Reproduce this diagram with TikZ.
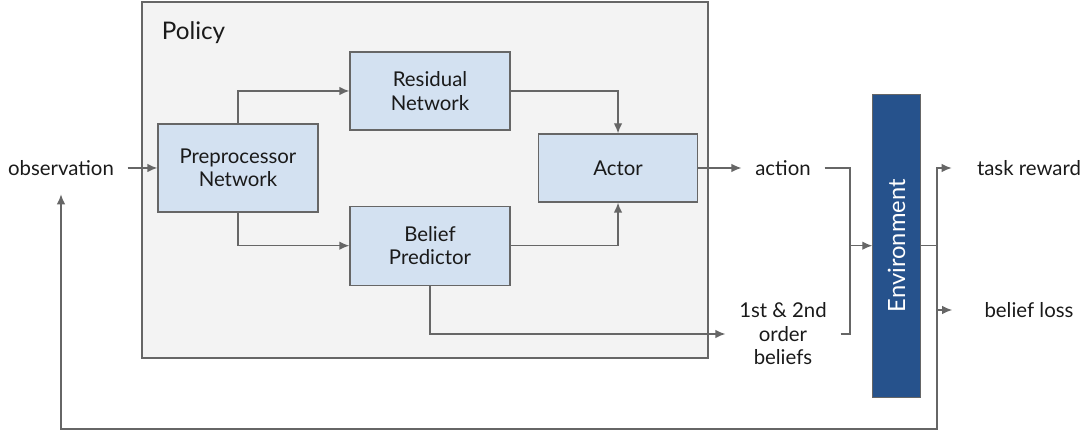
\documentclass[tikz,border=0pt]{standalone}
\usepackage{fontspec}
\setmainfont{Lato}
\usetikzlibrary{arrows.meta,positioning}
\definecolor{boxblue}{HTML}{D3E1F1}
\definecolor{policygray}{HTML}{F3F3F3}
\definecolor{envblue}{HTML}{26528C}
\definecolor{linegray}{HTML}{666666}
\definecolor{textdark}{HTML}{1A1A1A}
\tikzset{
  block/.style={draw=linegray, line width=0.75pt, fill=boxblue, align=center,
    minimum width=3.2cm, text=textdark},
  sig/.style={align=center, inner xsep=0.27cm, text=textdark},
  wire/.style={draw=linegray, line width=0.75pt},
  flow/.style={wire, -{Latex[length=2mm,width=1.7mm]}},
}

\begin{document}
\begin{tikzpicture}[font=\fontsize{11.6}{13.4}\selectfont]
  \useasboundingbox (0,0) rectangle (21.72,8.64);
  \node (policy) [draw=linegray, line width=0.75pt, fill=policygray,
    minimum width=11.32cm, minimum height=7.12cm] at (8.50,5.04) {};
  \node (policylabel) [text=textdark, font=\fontsize{13.8}{16}\selectfont] at (3.87,7.98) {Policy};

  \node (prep)  [block, minimum height=1.76cm] at (4.76,5.28)  {Preprocessor\\Network};
  \node (res)   [block, minimum height=1.56cm] at (8.60,6.82)  {Residual\\Network};
  \node (bel)   [block, minimum height=1.58cm] at (8.60,3.726) {Belief\\Predictor};
  \node (actor) [block, minimum width=3.18cm, minimum height=1.36cm] at (12.36,5.28) {Actor};
  \node (env)   [draw=linegray, line width=0.5pt, fill=envblue, text=white,
    minimum width=0.95cm, minimum height=6.06cm,
    font=\fontsize{13.5}{16}\selectfont] at (17.93,3.726) {\rotatebox{90}{Environment}};

  \node (obs)     [sig] at (1.22,5.28)  {observation};
  \node (action)  [sig] at (15.66,5.28) {action};
  \node (beliefs) [sig] at (15.66,1.96) {1st \& 2nd\\order\\beliefs};
  \node (task)    [sig] at (20.58,5.28) {task reward};
  \node (loss)    [sig] at (20.58,2.44) {belief loss};

  \coordinate (merge) at (17.0,3.726);
  \coordinate (split) at (18.74,3.726);
  \coordinate (back)  at (18.74,0.06);

  \draw[flow] (obs) -- (prep);
  \draw[flow] (prep.north) |- (res.west);
  \draw[flow] (prep.south) |- (bel.west);
  \draw[flow] (res.east) -| (actor.north);
  \draw[flow] (bel.east) -| (actor.south);
  \draw[flow] (actor) -- (action);
  \draw[flow] (bel.south) |- (beliefs.west);
  \draw[wire] (action.east) -| (merge);
  \draw[wire] (beliefs.east) -| (merge);
  \draw[flow] (merge) -- (env.west);
  \draw[wire] (env.east) -- (split);
  \draw[flow, shorten >=0.23cm] (split) |- (task.west);
  \draw[flow, shorten >=0.37cm] (split) |- (loss.west);
  \draw[flow, shorten >=0.25cm] (split) -- (back) -| (obs.south);
\end{tikzpicture}
\end{document}
